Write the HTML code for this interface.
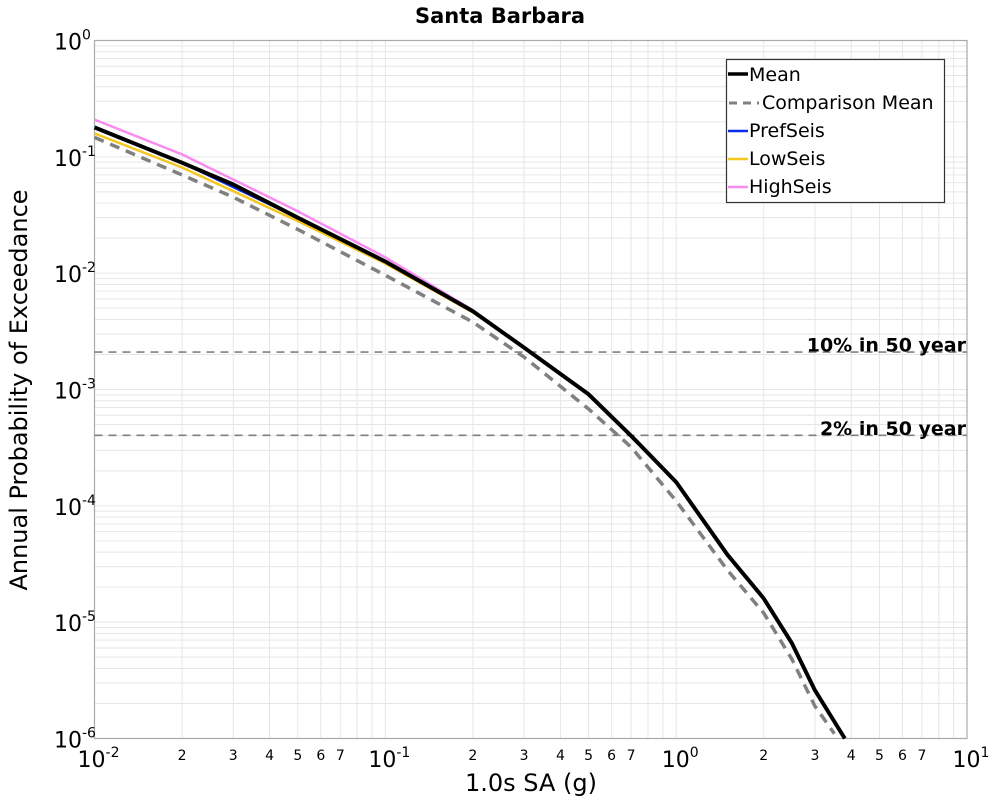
<!DOCTYPE html>
<html><head><meta charset="utf-8"><style>
html,body{margin:0;padding:0;background:#fff;}
svg{display:block;font-family:"DejaVu Sans","Liberation Sans",sans-serif;}
</style></head><body>
<svg id="chart" width="1000" height="800" viewBox="0 0 1000 800" xmlns="http://www.w3.org/2000/svg">
<text x="500" y="23" text-anchor="middle" font-size="21" font-weight="bold">Santa Barbara</text>
<g id="grid"></g>
<rect x="94.5" y="40.5" width="872.5" height="698" fill="none" stroke="#aaa" stroke-width="1.2"/>
<g id="ticks"></g>
<g id="series"></g>
<text x="531" y="791" text-anchor="middle" font-size="24">1.0s SA (g)</text>
<text transform="translate(27,390) rotate(-90)" text-anchor="middle" font-size="24">Annual Probability of Exceedance</text>
<g>
<rect x="726.5" y="59.5" width="218" height="143" fill="#fff" stroke="#333" stroke-width="1.2"/>
<line x1="728" y1="74" x2="748" y2="74" stroke="#000" stroke-width="3.5"/><text x="749" y="81" font-size="19">Mean</text>
<line x1="729" y1="103" x2="759" y2="103" stroke="#808080" stroke-width="3" stroke-dasharray="8,6"/><text x="762" y="109" font-size="19">Comparison Mean</text>
<line x1="728" y1="131" x2="748" y2="131" stroke="#0a2cf0" stroke-width="2.5"/><text x="749" y="137" font-size="19">PrefSeis</text>
<line x1="728" y1="159" x2="748" y2="159" stroke="#f5c520" stroke-width="2.5"/><text x="749" y="165" font-size="19">LowSeis</text>
<line x1="728" y1="187" x2="748" y2="187" stroke="#f98cf0" stroke-width="2.5"/><text x="749" y="193" font-size="19">HighSeis</text>
</g>
</svg>
<script>
const xVals=[0.01,0.02,0.03,0.05,0.1,0.2,0.3,0.5,0.7,1.0,1.5,2.0,2.5,3.0,3.8];
const meanVals=[0.179,0.089,0.0578,0.030,0.0126,0.0047,0.00229,0.00091,0.0004,0.00016,0.000038,0.000016,0.0000066,0.0000026,0.000001];
const compX=[0.01,0.02,0.03,0.05,0.1,0.2,0.3,0.5,0.7,1.0,1.5,2.0,2.5,3.0,3.5];
const compVals=[0.147,0.070,0.045,0.0238,0.0096,0.0038,0.0019,0.00068,0.00032,0.00011,0.000028,0.000012,0.0000048,0.0000019,0.0000011];
const seisX=[0.01,0.02,0.05,0.1,0.2,0.3];
const prefVals=[0.179,0.089,0.030,0.0126,0.0047,0.00229];
const lowVals=[0.159,0.081,0.028,0.0121,0.0046,0.00228];
const highVals=[0.209,0.105,0.034,0.0137,0.0048,0.0023];
const hazardLevels=[0.0021,0.000404];
const hazardLabels=["10% in 50 year","2% in 50 year"];
const xTickExps=[-2,-1,0,1];
const yTickExps=[0,-1,-2,-3,-4,-5,-6];
const xMinorLabels=[2,3,4,5,6,7];

const X0=94.5,X1=967,Y0=40.5,Y1=738.5;
const NS="http://www.w3.org/2000/svg";
function xs(v){return X0+(Math.log10(v)+2)/3*(X1-X0);}
function ys(v){return Y0+(-Math.log10(v))/6*(Y1-Y0);}
function mk(tag,attrs,parent,txt){const e=document.createElementNS(NS,tag);for(const k in attrs)e.setAttribute(k,attrs[k]);if(txt!==undefined)e.textContent=txt;parent.appendChild(e);return e;}
const grid=document.getElementById('grid'),ticks=document.getElementById('ticks'),series=document.getElementById('series');
for(let d=-2;d<1;d++)for(let m=1;m<10;m++){const v=m*Math.pow(10,d);if(v<=0.01)continue;const x=xs(v);
const l=mk('line',{x1:x,x2:x,y1:Y0,y2:Y1,stroke:'#e6e6e6','stroke-width':1},grid);

}
for(let d=-6;d<0;d++)for(let m=1;m<10;m++){const v=m*Math.pow(10,d);if(v<=1e-6)continue;const y=ys(v);
const l=mk('line',{x1:X0,x2:X1,y1:y,y2:y,stroke:'#e6e6e6','stroke-width':1},grid);

}
xTickExps.forEach(e=>{const x=xs(Math.pow(10,e));
const t=mk('text',{x:x+4,y:767,'text-anchor':'middle','font-size':22},ticks);


mk('tspan',{},t,'10');mk('tspan',{dy:-10,'font-size':14},t,String(e));});
for(let d=-2;d<1;d++)xMinorLabels.forEach(m=>{const x=xs(m*Math.pow(10,d));
const t=mk('text',{x:x,y:760,'text-anchor':'middle','font-size':14},ticks,String(m));

});
yTickExps.forEach(e=>{const y=ys(Math.pow(10,e));
const t=mk('text',{x:54,y:y+9,'font-size':22},ticks);


mk('tspan',{},t,'10');mk('tspan',{dy:-10,'font-size':14},t,String(e));});
hazardLevels.forEach((v,i)=>{const y=ys(v);
const l=mk('line',{x1:X0,x2:X1,y1:y,y2:y,stroke:'#808080','stroke-width':1.6,'stroke-dasharray':'8,6'},series);


const t=mk('text',{x:966,y:y-0.5,'text-anchor':'end','font-size':19,'font-weight':'bold'},series,hazardLabels[i]);

});
function path(xa,ya){return xa.map((x,i)=>(i?'L':'M')+xs(x).toFixed(1)+','+ys(ya[i]).toFixed(1)).join(' ');}
function addLine(xa,ya,color,w,dash,name){const p=mk('path',{d:path(xa,ya),fill:'none',stroke:color,'stroke-width':w,'stroke-linejoin':'round'},series);if(dash)p.setAttribute('stroke-dasharray',dash);

}
addLine(seisX,highVals,'#f98cf0',2.5,null,'highseis-line');
addLine(seisX,lowVals,'#f5c520',2.5,null,'lowseis-line');
addLine(seisX,prefVals,'#0a2cf0',2.5,null,'prefseis-line');
addLine(compX,compVals,'#808080',3.5,'10,7','comparison-mean-line');
addLine(xVals,meanVals,'#000',4,null,'mean-line');
</script>
</body></html>
